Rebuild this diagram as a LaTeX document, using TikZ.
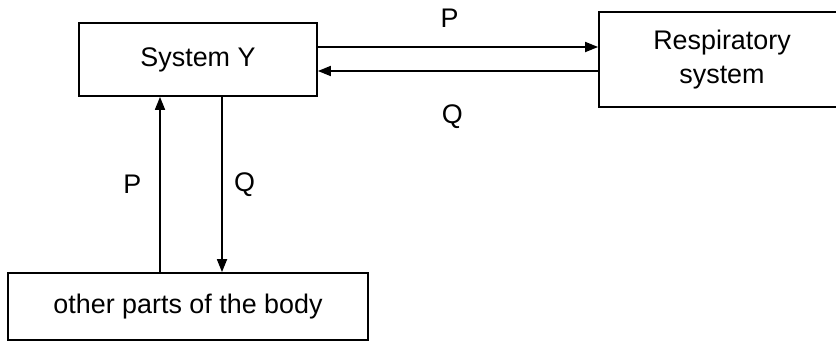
\documentclass[tikz,border=0pt]{standalone}
\usepackage{fontspec}
\setmainfont{Liberation Sans}
\usepackage{tikz}
\usetikzlibrary{
  arrows.meta,
  positioning
}
\tikzset{
  box/.style={draw, line width=1pt, rectangle, inner sep=0pt},
  flow/.style={line width=1pt, -{Triangle[length=0.26cm, width=0.2cm]}},
  lbl/.style={font=\fontsize{15.3}{19.3}\selectfont}
}

\begin{document}
\begin{tikzpicture}[lbl]
  \useasboundingbox (0,0) rectangle (16.72,-6.9);

  % Boxes
  \node[box, minimum width=4.76cm, minimum height=1.46cm] (sysY) at (3.96,-1.19) {System Y};
  \node[box, align=center, minimum width=5.4cm, minimum height=1.9cm] (resp) at (14.68,-1.19) {};
  \node[align=center] (respText) at (14.44,-1.19) {Respiratory\\system};
  \node[box, minimum width=7.2cm, minimum height=1.34cm] (body) at (3.76,-6.13) {other parts of the body};

  % Exchange with the respiratory system
  \draw[flow] ([yshift=0.25cm]sysY.east) -- ([yshift=0.25cm]sysY.east -| resp.west)
    node[pos=0.47, above=0.25cm]{P};
  \draw[flow] ([yshift=-0.23cm]resp.west) -- ([yshift=-0.23cm]resp.west -| sysY.east)
    node[pos=0.52, below=0.54cm]{Q};

  % Exchange with the body
  \coordinate (pUp) at ([xshift=-0.76cm]sysY.south);
  \coordinate (qDown) at ([xshift=0.48cm]sysY.south);
  \draw[flow] (body.north -| pUp) -- (pUp)
    node[midway, left=0.24cm]{P};
  \draw[flow] (qDown) -- (body.north -| qDown)
    node[midway, right=0.11cm]{Q};
\end{tikzpicture}
\end{document}
